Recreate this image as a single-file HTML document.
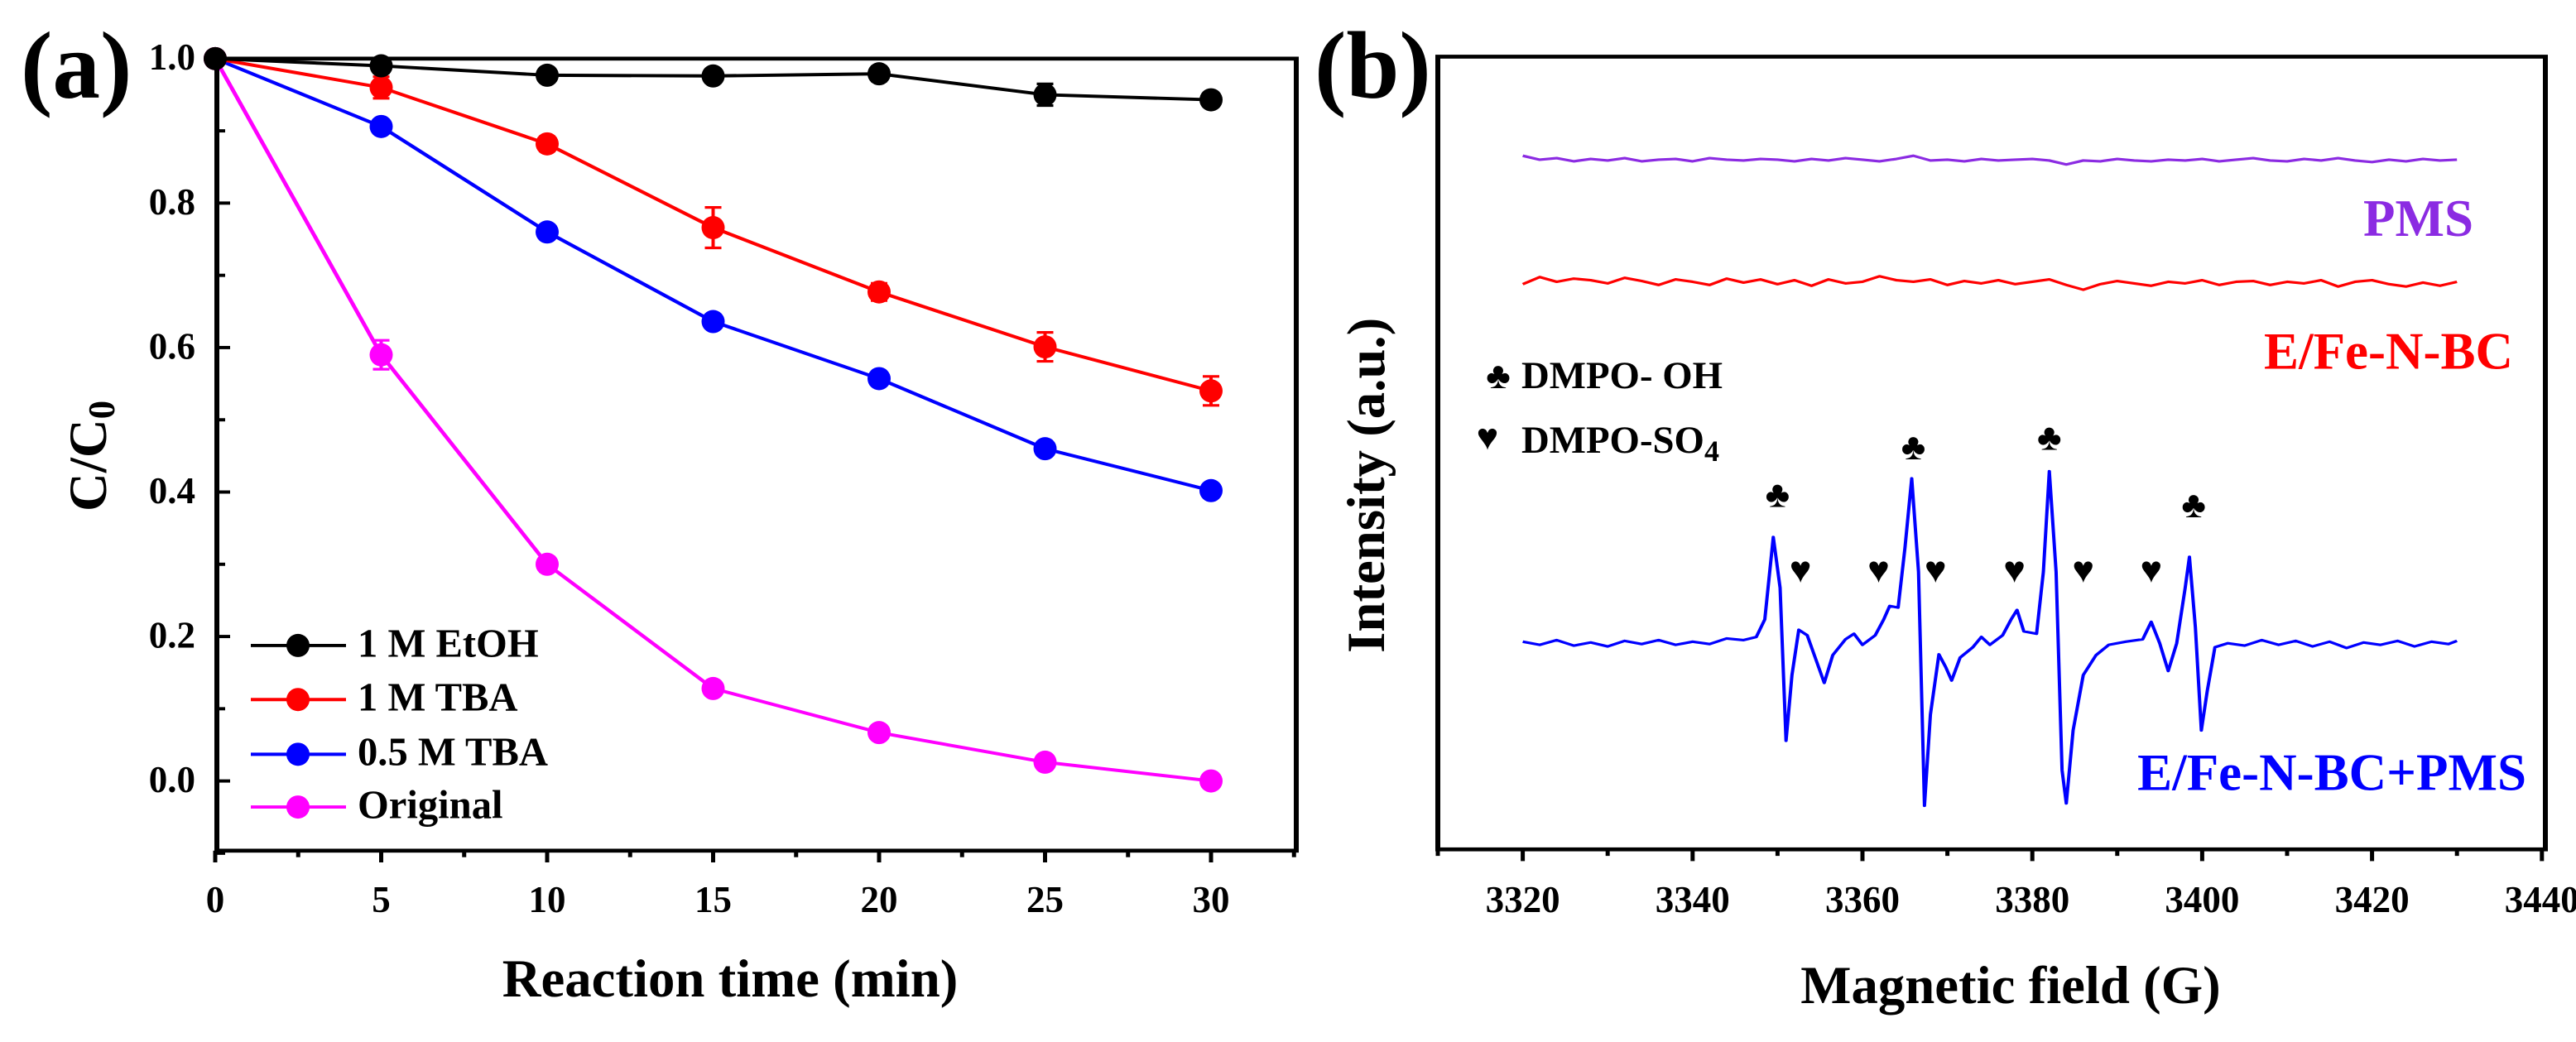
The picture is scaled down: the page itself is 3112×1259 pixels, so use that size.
<!DOCTYPE html>
<html><head><meta charset="utf-8">
<style>
html,body{margin:0;padding:0;background:#fff;overflow:hidden;}
svg{display:block;font-family:"Liberation Serif",serif;font-weight:bold;}
</style></head>
<body>
<svg id="fig" width="3112" height="1259" viewBox="0 0 3112 1259" xmlns="http://www.w3.org/2000/svg"><g id="root" transform="scale(1,0.787)"></g></svg>
<script>
// ---- Panel (a) data ----
const timeCats = [0, 5, 10, 15, 20, 25, 30];
const etohVals = [1.0, 0.99, 0.977, 0.976, 0.979, 0.95, 0.943];
const etohErr = [0, 0.01, 0.008, 0.008, 0.01, 0.015, 0.008];
const tba1Vals = [1.0, 0.96, 0.882, 0.766, 0.677, 0.601, 0.54];
const tba1Err = [0, 0.015, 0.01, 0.028, 0.012, 0.02, 0.02];
const tba05Vals = [1.0, 0.906, 0.76, 0.636, 0.557, 0.46, 0.402];
const tba05Err = [0, 0.008, 0.008, 0.008, 0.008, 0.008, 0.008];
const origVals = [1.0, 0.59, 0.3, 0.128, 0.067, 0.026, 0.0];
const origErr = [0, 0.02, 0.01, 0.008, 0.008, 0.008, 0.008];
const aXTicks = [0, 5, 10, 15, 20, 25, 30];
const aYTicks = [0.0, 0.2, 0.4, 0.6, 0.8, 1.0];
const seriesNames = ["1 M EtOH", "1 M TBA", "0.5 M TBA", "Original"];

// ---- Panel (b) data ----
const bXTicks = [3320, 3340, 3360, 3380, 3400, 3420, 3440];
const blueField = [3320,3322,3324,3326,3328,3330,3332,3334,3336,3338,3340,3342,3344,3346,3347.5,3348.5,3349.5,3350.3,3351,3351.7,3352.5,3353.5,3354.5,3355.5,3356.5,3358,3359,3360,3361.5,3362.5,3363.2,3364.2,3365,3365.8,3366.6,3367.3,3368,3369,3369.8,3370.5,3371.5,3373,3374,3375,3376.5,3377.5,3378.2,3379,3380.5,3381.3,3382,3382.8,3383.5,3384,3384.8,3386,3387.5,3389,3391,3393,3394,3395,3396,3397,3398,3398.5,3399.2,3399.9,3400.6,3401.5,3403,3405,3407,3409,3411,3413,3415,3417,3419,3421,3423,3425,3427,3429,3430];
const blueInt = [26.2,25.8,26.4,25.7,26.1,25.6,26.3,25.9,26.4,25.8,26.2,25.9,26.6,26.4,26.8,29,39.4,33,13.7,22,27.7,27,24,21.0,24.5,26.5,27.2,25.8,27,29,30.7,30.5,38,46.8,35,5.5,17,24.6,23,21.3,24.2,25.5,26.8,25.8,27,29,30.2,27.5,27.2,35,47.7,35,10,5.8,15,22,24.5,25.8,26.2,26.5,28.7,26,22.5,26,33,36.9,28,15,20,25.5,26,25.7,26.4,25.8,26.3,25.6,26.2,25.4,26.1,25.8,26.3,25.6,26.2,25.9,26.3];
const flatField = [3320,3322,3324,3326,3328,3330,3332,3334,3336,3338,3340,3342,3344,3346,3348,3350,3352,3354,3356,3358,3360,3362,3364,3366,3368,3370,3372,3374,3376,3378,3380,3382,3384,3386,3388,3390,3392,3394,3396,3398,3400,3402,3404,3406,3408,3410,3412,3414,3416,3418,3420,3422,3424,3426,3428,3430];
const pmsInt = [87.5,87.0,87.2,86.8,87.1,86.9,87.2,86.8,87.0,87.1,86.8,87.2,87.0,86.9,87.1,87.0,86.8,87.1,86.9,87.2,87.0,86.8,87.1,87.5,86.9,87.0,86.8,87.1,86.9,87.0,87.1,86.9,86.4,86.9,86.8,87.1,86.9,86.8,87.0,86.9,87.1,86.8,87.0,87.2,86.9,86.8,87.1,86.9,87.2,86.9,86.7,87.0,86.8,87.1,86.9,87.0];
const efeInt = [71.3,72.2,71.6,72.0,71.8,71.4,72.1,71.7,71.2,71.9,71.6,71.2,72.0,71.5,71.9,71.3,71.8,71.1,71.9,71.4,71.6,72.3,71.8,71.6,71.9,71.2,71.7,71.4,71.8,71.3,71.6,71.9,71.2,70.6,71.3,71.7,71.4,71.1,71.6,71.4,71.8,71.2,71.6,71.7,71.2,71.6,71.4,71.8,71.0,71.6,71.8,71.3,71.0,71.5,71.1,71.6];
const clubFields = [3350, 3366, 3382, 3399];
const clubInts = [44.5, 50.5, 51.7, 43.2];
const heartFields = [3352.7, 3361.9, 3368.6, 3377.9, 3386.0, 3394.0];
const heartInt = 35.0;

const NS = "http://www.w3.org/2000/svg";
const svg = document.getElementById('root');
const INV = 1 / 0.787;
function mk(tag, attrs, parent) {
  const e = document.createElementNS(NS, tag);
  for (const k in attrs) e.setAttribute(k, attrs[k]);
  (parent || svg).appendChild(e);
  return e;
}
// text with counter-scaling so glyphs keep natural proportions
function txt(s, attrs, parent, html) {
  const a = Object.assign({}, attrs);
  let tr;
  if (a.transform) { tr = a.transform; delete a.transform; }
  else { tr = `translate(${a.x},${a.y}) scale(1,${INV})`; }
  delete a.x; delete a.y;
  if (a['font-size']) a['font-size'] = a['font-size'] * 0.9;
  const g = mk('g', {transform: tr}, parent);
  const t = mk('text', Object.assign({x: 0, y: 0}, a), g);
  if (html) t.innerHTML = s; else t.textContent = s;
  return t;
}

// ---------- Panel (a) ----------
const aL = 262, aR = 1566, aT = 90, aB = 1306;
const ax = v => 260 + (v - 0) * 40.1;
const ay = v => 1199 - v * 1109;
const ga = mk('g', {});


let la = txt('(a)', {x: 25, y: 150, 'font-size': 128}, ga);


for (let v = 0; v <= 32.5; v += 2.5) {
  const major = (v % 5 === 0);
  const t = mk('line', {x1: ax(v), x2: ax(v), y1: aB, y2: aB + (major ? 18 : 10), stroke: '#000', 'stroke-width': 5}, ga);
  
  
}
aXTicks.forEach(v => {
  const t = txt(String(v), {x: ax(v), y: 1400, 'font-size': 50, 'text-anchor': 'middle'}, ga);
  
  
});
for (let i = -1; i <= 10; i++) {
  const v = i / 10;
  const major = (i % 2 === 0);
  const t = mk('line', {x1: aL, x2: aL + (major ? 16 : 10), y1: ay(v), y2: ay(v), stroke: '#000', 'stroke-width': 5}, ga);
  
  
}
aYTicks.forEach(v => {
  const t = txt(v.toFixed(1), {x: 236, y: ay(v) + 17, 'font-size': 50, 'text-anchor': 'end'}, ga);
  
  
});
const xt = txt('Reaction time (min)', {x: 882, y: 1530, 'font-size': 72, 'text-anchor': 'middle'}, ga);


const yt = txt('C/C<tspan font-size="45" dy="10">0</tspan>', {transform: `translate(128,700) scale(1,${INV}) rotate(-90)`, 'font-size': 72, 'text-anchor': 'middle'}, ga, true);



const series = [
  {name: seriesNames[0], vals: etohVals, err: etohErr, color: '#000000', key: 'etoh'},
  {name: seriesNames[1], vals: tba1Vals, err: tba1Err, color: '#ff0000', key: 'tba-1m'},
  {name: seriesNames[2], vals: tba05Vals, err: tba05Err, color: '#0000ff', key: 'tba-05m'},
  {name: seriesNames[3], vals: origVals, err: origErr, color: '#ff00ff', key: 'original'}
];
series.slice().reverse().forEach(s => {
  const g = mk('g', {}, ga);
  
  
  const pts = timeCats.map((t, i) => ax(t) + ',' + ay(s.vals[i])).join(' ');
  const pl = mk('polyline', {points: pts, fill: 'none', stroke: s.color, 'stroke-width': 5}, g);
  
  
  timeCats.forEach((t, i) => {
    const e = s.err[i];
    if (e > 0) {
      const eb = mk('path', {d: `M${ax(t)},${ay(s.vals[i] + e)}V${ay(s.vals[i] - e)}M${ax(t) - 10},${ay(s.vals[i] + e)}h20M${ax(t) - 10},${ay(s.vals[i] - e)}h20`, stroke: s.color, 'stroke-width': 4, fill: 'none'}, g);
      
      
    }
    const c = mk('ellipse', {cx: ax(t), cy: ay(s.vals[i]), rx: 14, ry: 14 * INV, fill: s.color}, g);
    
    
  });
});
const legA = mk('g', {}, ga);


const legY = [991, 1074, 1158, 1239];
series.forEach((s, i) => {
  const g = mk('g', {}, legA);
  
  
  mk('line', {x1: 303, x2: 418, y1: legY[i], y2: legY[i], stroke: s.color, 'stroke-width': 5}, g);
  mk('ellipse', {cx: 360, cy: legY[i], rx: 14, ry: 14 * INV, fill: s.color}, g);
  txt(s.name, {x: 432, y: legY[i] + 17, 'font-size': 54}, g);
});
const fa = mk('rect', {x: aL, y: aT, width: aR - aL, height: aB - aT, fill: 'none', stroke: '#000', 'stroke-width': 6}, ga);



// ---------- Panel (b) ----------
const bL = 1737, bR = 3075, bT = 87, bB = 1304;
const bx = v => 1737 + (v - 3310) * 10.26;
const by = v => 1304 - v * 12.17;
const gb = mk('g', {});


const lb = txt('(b)', {x: 1588, y: 150, 'font-size': 128}, gb);


for (let v = 3310; v <= 3440; v += 10) {
  const major = (v % 20 === 0);
  const t = mk('line', {x1: bx(v), x2: bx(v), y1: bB, y2: bB + (major ? 18 : 10), stroke: '#000', 'stroke-width': 5}, gb);
  
  
}
bXTicks.forEach(v => {
  const t = txt(String(v), {x: bx(v), y: 1400, 'font-size': 50, 'text-anchor': 'middle'}, gb);
  
  
});
const bxt = txt('Magnetic field (G)', {x: 2429, y: 1540, 'font-size': 72, 'text-anchor': 'middle'}, gb);


const byt = txt('Intensity (a.u.)', {transform: `translate(1672,745) scale(1,${INV}) rotate(-90)`, 'font-size': 72, 'text-anchor': 'middle'}, gb);



function spectrum(fields, ints, color, name) {
  const pts = fields.map((f, i) => bx(f) + ',' + by(ints[i])).join(' ');
  const p = mk('polyline', {points: pts, fill: 'none', stroke: color, 'stroke-width': 4, 'stroke-linejoin': 'round'}, gb);
  
  
}
spectrum(flatField, pmsInt, '#8b2be2', 'spectrum-pms');
spectrum(flatField, efeInt, '#ff0000', 'spectrum-e-fe-n-bc');
spectrum(blueField, blueInt, '#0000ff', 'spectrum-e-fe-n-bc-pms');

const t1 = txt('PMS', {x: 2988, y: 362, 'font-size': 70, 'text-anchor': 'end', fill: '#8b2be2'}, gb);


const t2 = txt('E/Fe-N-BC', {x: 3036, y: 566, 'font-size': 70, 'text-anchor': 'end', fill: '#ff0000'}, gb);


const t3 = txt('E/Fe-N-BC+PMS', {x: 3052, y: 1213, 'font-size': 70, 'text-anchor': 'end', fill: '#0000ff'}, gb);



const legB = mk('g', {}, gb);


txt('♣', {x: 1810, y: 596, 'font-size': 50, 'text-anchor': 'middle'}, legB);
txt('DMPO- OH', {x: 1838, y: 596, 'font-size': 52}, legB);
txt('♥', {x: 1797, y: 690, 'font-size': 50, 'text-anchor': 'middle'}, legB);
txt('DMPO-SO<tspan font-size="36" dy="10">4</tspan>', {x: 1838, y: 695, 'font-size': 52}, legB, true);

clubFields.forEach((f, i) => {
  const c = txt('♣', {x: bx(f), y: by(clubInts[i]) + 16, 'font-size': 50, 'text-anchor': 'middle'}, gb);
  
  
});
heartFields.forEach(f => {
  const h = txt('♥', {x: bx(f), y: by(heartInt) + 16, 'font-size': 50, 'text-anchor': 'middle'}, gb);
  
  
});
const fb = mk('rect', {x: bL, y: bT, width: bR - bL, height: bB - bT, fill: 'none', stroke: '#000', 'stroke-width': 6}, gb);


</script>
</body></html>
